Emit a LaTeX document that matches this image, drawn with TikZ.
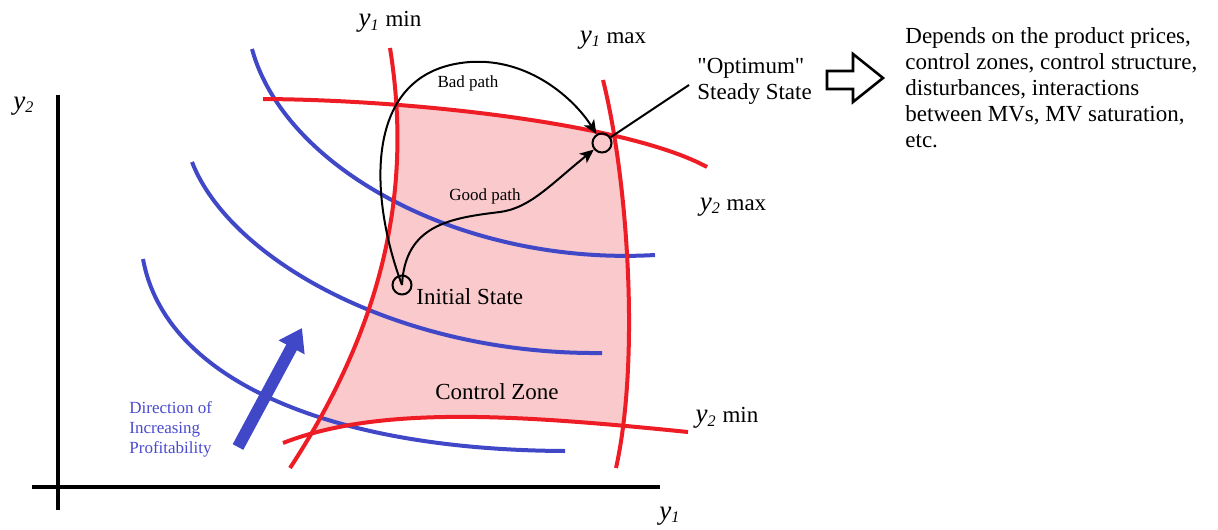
\documentclass[tikz,border=0pt]{standalone}
\usepackage{fontspec}
\setmainfont{Liberation Serif}
\newfontfamily\rawserif{Liberation Serif}
\usetikzlibrary{arrows.meta}
\definecolor{pzred}{HTML}{EE1C25}
\definecolor{pzblue}{HTML}{4048C8}
\definecolor{pzpink}{HTML}{F9C9CB}
\definecolor{pztext}{HTML}{4A4ACF}
\newcommand\yvar[1]{{\fontsize{13.5}{13}\selectfont\itshape y}\textsubscript{\itshape #1}}
\tikzset{
  every picture/.style={font=\fontsize{11.5}{13}\selectfont},
  bound/.style={draw=pzred,line width=2pt},
  contour/.style={draw=pzblue,line width=2pt},
  axis/.style={draw=black,line width=2pt},
  statept/.style={circle,draw=black,line width=1pt,minimum size=9.5pt,inner sep=0pt},
  move/.style={draw=black,line width=1pt,-{Stealth[length=7pt,width=6pt,inset=1.8pt]}},
  pointer/.style={draw=black,line width=1pt},
  profit/.style={draw=pzblue,line width=6pt,-{Triangle[length=11pt,width=14pt]}},
  blockarr/.style={draw=black,line width=1.3pt,fill=white,line join=miter},
  small/.style={font=\fontsize{8.5}{10}\selectfont},
}

\begin{document}
\begin{tikzpicture}[x=0.5pt,y=-0.5pt]
  \path[use as bounding box] (0,0) rectangle (1218,529);
  % control zone: the part inside all four constraint curves
  \begin{scope}
    \clip (390,48) .. controls (408,160) and (400,300) .. (290,468)
      -- (290,529) -- (800,529) -- (800,0) -- (390,0) -- cycle;
    \clip (603,80) .. controls (628,180) and (640,360) .. (616,468)
      -- (616,529) -- (200,529) -- (200,0) -- (603,0) -- cycle;
    \clip (263,99) .. controls (420,100) and (630,125) .. (707,167)
      -- (800,167) -- (800,529) -- (200,529) -- (200,99) -- cycle;
    \clip (283,443) .. controls (380,405) and (520,415) .. (688,432)
      -- (800,432) -- (800,0) -- (200,0) -- (200,443) -- cycle;
    \fill[pzpink] (200,0) rectangle (800,529);
  \end{scope}
  \draw[contour] (252,49) .. controls (285,170) and (465,266) .. (655,255);
  \draw[contour] (192,162) .. controls (230,260) and (400,355) .. (602,353);
  \draw[contour] (143,259) .. controls (165,380) and (330,450) .. (565,451);
  \draw[bound] (390,48) .. controls (408,160) and (400,300) .. (290,468);
  \draw[bound] (603,80) .. controls (628,180) and (640,360) .. (616,468);
  \draw[bound] (263,99) .. controls (420,100) and (630,125) .. (707,167);
  \draw[bound] (283,443) .. controls (380,405) and (520,415) .. (688,432);
  \draw[axis] (58,95) -- (58,510);
  \draw[axis] (32,487) -- (660,487);

  \node (y1min) at (390,22) {\yvar{1} min};
  \node (y1max) at (613,40) {\yvar{1} max};
  \node (y2max) at (733,207) {\yvar{2} max};
  \node (y2min) at (727,418) {\yvar{2} min};
  \node (y2axis) at (24,106) {\yvar{2}};
  \node (y1axis) at (670,516) {\yvar{1}};

  \node[statept] (init) at (402,285) {};
  \node[statept] (opt) at (602,143) {};
  \node[anchor=west,inner sep=0pt] (initlbl) at (416,297) {Initial State};
  \node (zone) at (497,392) {Control Zone};
  \node[small] (badlbl) at (468,83) {Bad path};
  \node[small] (goodlbl) at (485,196) {Good path};
  \draw[move] (init.center) .. controls (370,200) and (360,70) .. (470,62)
    .. controls (530,58) and (575,100) .. (opt);
  \draw[move] (init.center) .. controls (405,225) and (450,218) .. (500,212)
    .. controls (530,208) and (550,185) .. (opt);

  \node[align=left,anchor=west,inner sep=0pt] (opttext) at (697,81)
    {{\rawserif"}Optimum{\rawserif"}\\Steady State};
  \draw[pointer] (opt) -- ([shift={(-8,4)}]opttext.west);
  \draw[blockarr] (827,71) -- (853,71) -- (853,54) -- (883,78) -- (853,102)
    -- (853,89) -- (827,89) -- cycle;
  \node[align=left,anchor=north west,inner sep=0pt] (remark) at (905,27)
    {Depends on the product prices,\\control zones, control structure,\\
     disturbances, interactions\\between MVs, MV saturation,\\etc.};

  \coordinate (dirtail) at (238,447);
  \coordinate (dirtip) at (302,328);
  \draw[profit] (dirtail) -- (dirtip);
  \node[small,text=pztext,align=left,anchor=north west,inner sep=0pt] (dirlbl)
    at (129,401) {Direction of\\Increasing\\Profitability};
\end{tikzpicture}
\end{document}
